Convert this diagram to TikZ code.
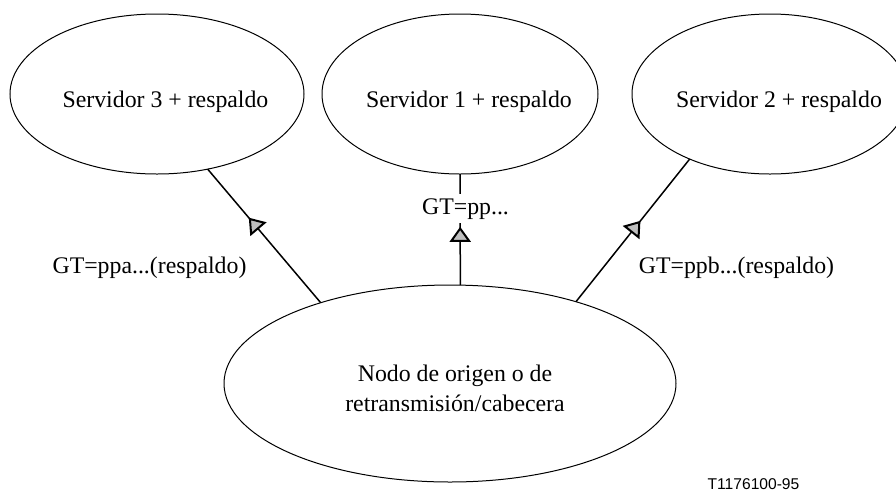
\documentclass[tikz,border=0pt]{standalone}
\usepackage{fontspec}
\setmainfont{Liberation Serif}
\newfontfamily\labelsans{Liberation Sans}
\usetikzlibrary{arrows.meta,decorations.markings,shapes.geometric}
\tikzset{
  tri/.tip={Triangle[length=15pt,width=21pt,fill=black!25,line width=2pt]},
}
\begin{document}
\begin{tikzpicture}[x=1pt,y=-1pt,
  ell/.style={draw, ellipse, line width=1pt, inner sep=0pt, outer sep=0pt},
  txt/.style={anchor=base, inner sep=0pt, font=\fontsize{23.8}{28}\selectfont},
  gtlabel/.style={txt, fill=white, inner xsep=2pt, inner ysep=4pt},
  conn/.style={line width=1.5pt},
  midarrow/.style={postaction={decorate}, decoration={markings, mark=at position #1 with {\arrow{tri}}}}]
\useasboundingbox (0,0) rectangle (896,491);

% ellipses
\node[ell, minimum width=294pt, minimum height=160pt] (s3) at (157,94) {};
\node[ell, minimum width=276pt, minimum height=160pt] (s1) at (460,94) {};
\node[ell, minimum width=276pt, minimum height=160pt] (s2) at (770,94) {};
\node[ell, minimum width=452pt, minimum height=197pt] (nodo) at (450,383.5) {};

% texts inside ellipses
\node[txt] (t3) at (165.5,107.5) {Servidor 3 + respaldo};
\node[txt] (t1) at (469,107.5) {Servidor 1 + respaldo};
\node[txt] (t2) at (779,107.5) {Servidor 2 + respaldo};
\node[txt] (tn1) at (455,381.7) {Nodo de origen o de};
\node[txt] (tn2) at (455,411.5) {retransmisión/cabecera};

% connectors
\draw[conn, midarrow=0.636] (nodo.148.2) -- (s3.-56.7);
\draw[conn, midarrow=0.525] (nodo.84.2) -- (s1.south);
\draw[conn, midarrow=0.567] (nodo.33.1) -- (s2.219.4);

% labels
\node[txt] (la) at (149.5,273) {GT=ppa...(respaldo)};
\node[gtlabel] (lm) at (465.5,214) {GT=pp...};
\node[txt] (lb) at (736.5,273) {GT=ppb...(respaldo)};
\node[anchor=base, inner sep=0pt, font=\labelsans\fontsize{15.6}{18}\selectfont] (fig) at (753.5,489) {T1176100-95};
\end{tikzpicture}
\end{document}
